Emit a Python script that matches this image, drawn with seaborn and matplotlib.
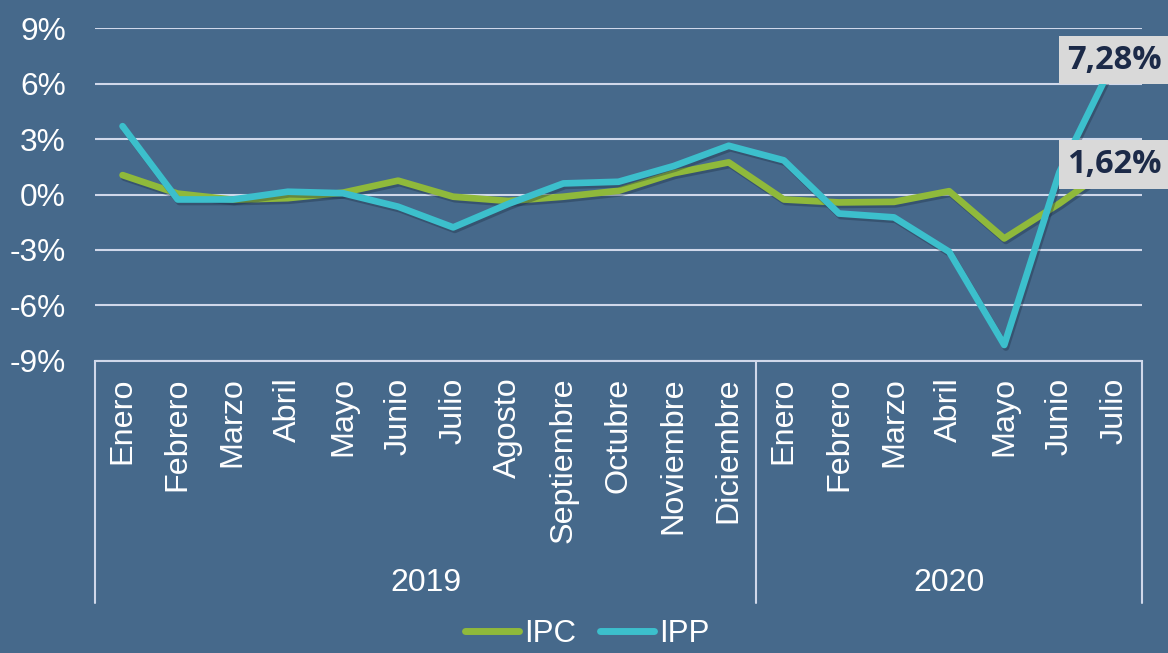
import numpy as np
import pandas as pd
import seaborn as sns
from matplotlib import pyplot as plt
from matplotlib.lines import Line2D
import matplotlib.patheffects as pe

meses = ['Enero', 'Febrero', 'Marzo', 'Abril', 'Mayo', 'Junio', 'Julio', 'Agosto',
         'Septiembre', 'Octubre', 'Noviembre', 'Diciembre',
         'Enero', 'Febrero', 'Marzo', 'Abril', 'Mayo', 'Junio', 'Julio']
anios = ['2019'] * 12 + ['2020'] * 7

ipc = [1.05, 0.05, -0.28, -0.2, 0.1, 0.75, -0.12, -0.35, -0.12, 0.2, 1.15, 1.74,
       -0.27, -0.43, -0.4, 0.18, -2.38, -0.49, 1.62]
ipp = [3.7, -0.27, -0.27, 0.15, 0.07, -0.66, -1.78, -0.51, 0.6, 0.69, 1.54, 2.64,
       1.85, -1.03, -1.24, -3.1, -8.15, 1.2, 7.28]

bg = '#46698b'
verde = '#8fb93b'
cian = '#3cbfcc'
gris = '#d0d8ea'

df = pd.DataFrame({
    'pos': list(range(len(meses))) * 2,
    'valor': ipc + ipp,
    'serie': ['IPC'] * len(ipc) + ['IPP'] * len(ipp),
})

sns.set_theme(style='white')
plt.rcParams['font.family'] = ['Liberation Sans', 'DejaVu Sans']

W, H = 1168, 653
fig = plt.figure(figsize=(W / 100, H / 100), dpi=100, facecolor=bg)
ax = fig.add_axes([95 / W, 1 - 360.7 / H, (1142 - 95) / W, (360.7 - 28.3) / H])
ax.set_facecolor(bg)

sns.lineplot(data=df, x='pos', y='valor', hue='serie', palette={'IPC': verde, 'IPP': cian},
             linewidth=4.8, legend=False, ax=ax, sort=False)
for ln in ax.lines:
    ln.set_solid_capstyle('round')
    ln.set_solid_joinstyle('round')
    ln.set_path_effects([pe.SimpleLineShadow(offset=(1.2, -1.8), shadow_color='#1a2a40', alpha=0.35),
                         pe.Normal()])

ax.set_xlim(-0.5, len(meses) - 0.5)
ax.set_ylim(-9, 9)
ax.set_yticks(np.arange(-9, 10, 3))
ax.set_yticklabels([f'{v}%' for v in range(-9, 10, 3)])
ax.yaxis.grid(True, color=gris, linewidth=1.5)
ax.xaxis.grid(False)
ax.set_xlabel('')
ax.set_ylabel('')

ax.set_xticks(range(len(meses)))
ax.set_xticklabels(meses, rotation=90, va='top', ha='center')
ax.tick_params(axis='x', length=0, pad=12, labelsize=23.3, labelcolor='white')
ax.tick_params(axis='y', length=0, pad=21, labelsize=22.8, labelcolor='white')

for s in ['left', 'right', 'top']:
    ax.spines[s].set_visible(False)
ax.spines['bottom'].set_color(gris)
ax.spines['bottom'].set_linewidth(1.5)

# ejes de categoria en dos niveles
tr = ax.get_xaxis_transform()
y_fondo = -(603 - 360.7) / (360.7 - 28.3)
for xs in [-0.5, 11.5, len(meses) - 0.5]:
    ax.plot([xs, xs], [0, y_fondo], transform=tr, color=gris, lw=1.5, clip_on=False)
y_anio = -(583 - 360.7) / (360.7 - 28.3)
grupos = pd.Series(range(len(anios))).groupby(anios).mean()
for anio, xc in grupos.items():
    ax.text(xc, y_anio, anio, transform=tr, ha='center', va='center',
            color='white', fontsize=23)

# etiquetas del ultimo dato
for serie in [ipp, ipc]:
    ax.text(len(meses) - 1, serie[-1], f'{serie[-1]:.2f}%'.replace('.', ','),
            ha='center', va='center', fontsize=23.5, fontweight='bold',
            family=['Open Sans', 'DejaVu Sans'], color='#1c2a48', clip_on=False, zorder=5,
            bbox=dict(boxstyle='square,pad=0.24', fc='#d9d9d9', ec='none'))

handles = [Line2D([], [], color=verde, lw=5, solid_capstyle='round'),
           Line2D([], [], color=cian, lw=5, solid_capstyle='round')]
fig.legend(handles, ['IPC', 'IPP'], loc='center', bbox_to_anchor=(587 / W, 1 - 634 / H),
           ncol=2, frameon=False, fontsize=22.5, labelcolor='white',
           handlelength=1.75, handletextpad=0.15, columnspacing=0.75,
           borderpad=0.1)

fig.savefig('out.png', dpi=100, facecolor=bg)
